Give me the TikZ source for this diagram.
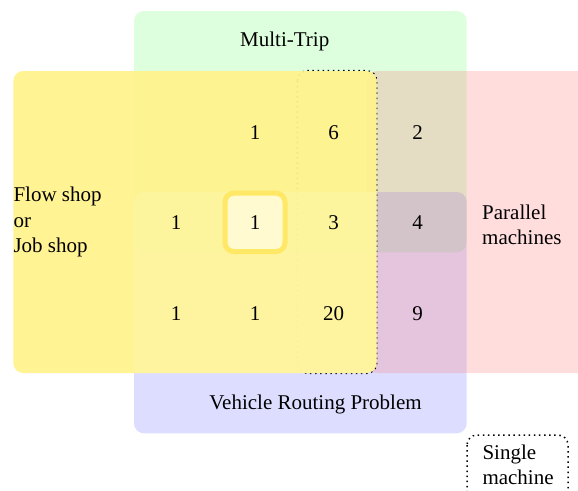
\documentclass[tikz,border=0pt]{standalone}
\usepackage{fontspec}
\setmainfont{Liberation Serif}
\definecolor{cgreen}{RGB}{119,255,119}
\definecolor{cblue}{RGB}{119,123,255}
\definecolor{cpink}{RGB}{255,119,119}
\definecolor{cyellow}{RGB}{255,242,142}
\definecolor{clight}{RGB}{255,249,172}
\definecolor{hlborder}{RGB}{255,232,102}
\definecolor{hlfill}{RGB}{255,250,208}
\begin{document}
\begin{tikzpicture}[x=1pt,y=-1pt,
  font=\fontsize{21}{25.5}\selectfont,
  setbox/.style={rounded corners=10pt},
  dotline/.style={line width=1.5pt, dash pattern=on 1.5pt off 3.6pt},
  lbl/.style={inner sep=0pt, align=left, anchor=west},
  num/.style={inner sep=0pt}]
\useasboundingbox (0,0) rectangle (578,490);
\begin{scope}
\clip (0,0) rectangle (578,490);
% sets
\fill[setbox, cgreen, opacity=.25] (134,11) rectangle (466.7,252.3);
\fill[setbox, cblue, opacity=.25] (134,192) rectangle (466.7,433.3);
\fill[setbox, cpink, opacity=.25] (367,71) rectangle (600,373);
% single machine region
\draw[setbox, dotline] (297.3,70.7) rectangle (376.7,373.3);
% flow shop
\fill[setbox, cyellow, opacity=.95] (13.3,71) rectangle (376.5,373);
\begin{scope}
\clip[setbox] (13.3,71) rectangle (376.5,373);
\fill[setbox, clight, opacity=.5] (134,192) rectangle (466.7,433.3);
\end{scope}
% legend box
\draw[setbox, dotline] (467,435) rectangle (568,520);
\end{scope}
% labels
\node[inner sep=0pt, anchor=base] (mt) at (284.7,46) {Multi-Trip};
\node[inner sep=0pt, anchor=base] (vrp) at (315.5,409.3) {Vehicle Routing Problem};
\node[lbl] (fs) at (13.3,222.3) {Flow shop\\or\\Job shop};
\node[lbl] (pm) at (482,224.6) {Parallel\\machines};
\node[lbl] (sm) at (482.3,464.9) {Single\\machine};
% numbers
\node[num] (n12) at (255,132.5) {1};
\node[num] (n13) at (333.5,132.5) {6};
\node[num] (n14) at (417.5,132.5) {2};
\node[num] (n21) at (176,222.5) {1};
\node[draw=hlborder, fill=hlfill, line width=5pt, rounded corners=9pt,
      minimum width=60pt, minimum height=58.5pt, inner sep=0pt] (n22) at (255,222.3) {1};
\node[num] (n23) at (333.5,222.5) {3};
\node[num] (n24) at (417.5,222.5) {4};
\node[num] (n31) at (176,313.5) {1};
\node[num] (n32) at (255,313.5) {1};
\node[num] (n33) at (333.5,313.5) {20};
\node[num] (n34) at (417.5,313.5) {9};
\end{tikzpicture}
\end{document}
